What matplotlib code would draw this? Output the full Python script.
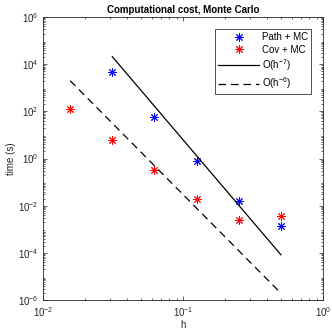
import matplotlib
matplotlib.use("Agg")
import matplotlib.pyplot as plt
from matplotlib.ticker import LogLocator, NullFormatter

plt.rcParams['font.family'] = ['Liberation Sans', 'DejaVu Sans']
plt.rcParams['mathtext.fontset'] = 'custom'
plt.rcParams['mathtext.rm'] = 'Liberation Sans'

path_h = [0.03125, 0.0625, 0.125, 0.25, 0.5]
path_t = [4600, 56, 0.81, 0.0165, 0.00144]
cov_h = [0.015625, 0.03125, 0.0625, 0.125, 0.25, 0.5]
cov_t = [123, 6.0, 0.34, 0.0195, 0.0025, 0.0037]
ref7_h = [0.03125, 0.5]
ref7_t = [2.1e4, 8.3e-5]
ref6_h = [0.015625, 0.5]
ref6_t = [2000, 1.95e-6]

fig = plt.figure(figsize=(3.32, 3.29), dpi=100)
ax = fig.add_axes([0.1295, 0.0881, 0.8435, 0.860])
ast = (8, 2, 0)
ax.loglog(path_h, path_t, linestyle='none', marker=ast, color='blue', markersize=6, markeredgewidth=0.7, label='Path + MC')
ax.loglog(cov_h, cov_t, linestyle='none', marker=ast, color='red', markersize=6, markeredgewidth=0.7, label='Cov + MC')
ax.loglog(ref7_h, ref7_t, '-', color='black', linewidth=0.9, label=r'O(h$^{-7}$)')
ax.loglog(ref6_h, ref6_t, '--', color='black', linewidth=0.9, dashes=(6, 4), label=r'O(h$^{-6}$)')

ax.set_xlim(1e-2, 1)
ax.set_ylim(1e-6, 1e6)
ax.set_xticks([1e-2, 1e-1, 1])
ax.set_yticks([1e-6, 1e-4, 1e-2, 1, 1e2, 1e4, 1e6])
ax.yaxis.set_minor_locator(LogLocator(base=10, subs=range(2, 10), numticks=50))
ax.xaxis.set_minor_locator(LogLocator(base=10, subs=range(2, 10), numticks=50))
ax.yaxis.set_minor_formatter(NullFormatter())
ax.xaxis.set_minor_formatter(NullFormatter())
ax.tick_params(which='both', direction='in', top=True, right=True, labelsize=7, colors='#262626', width=0.5)
ax.tick_params(which='major', length=3)
ax.tick_params(which='minor', length=1.6)
for s in ax.spines.values():
    s.set_linewidth(0.6)
    s.set_color('#262626')

ax.set_xlabel('h', fontsize=7, labelpad=1, color='#262626')
ax.set_ylabel('time (s)', fontsize=7, labelpad=1, color='#262626')
ax.set_title('Computational cost, Monte Carlo', fontsize=7, fontweight='bold', pad=3)

leg = ax.legend(loc='upper right', fontsize=7, frameon=True, fancybox=False, edgecolor='black',
                handlelength=4.2, borderaxespad=1.2, labelspacing=0.25, handletextpad=0.3,
                borderpad=0.35)
leg.get_frame().set_linewidth(0.6)

fig.savefig('out.png', dpi=100)
